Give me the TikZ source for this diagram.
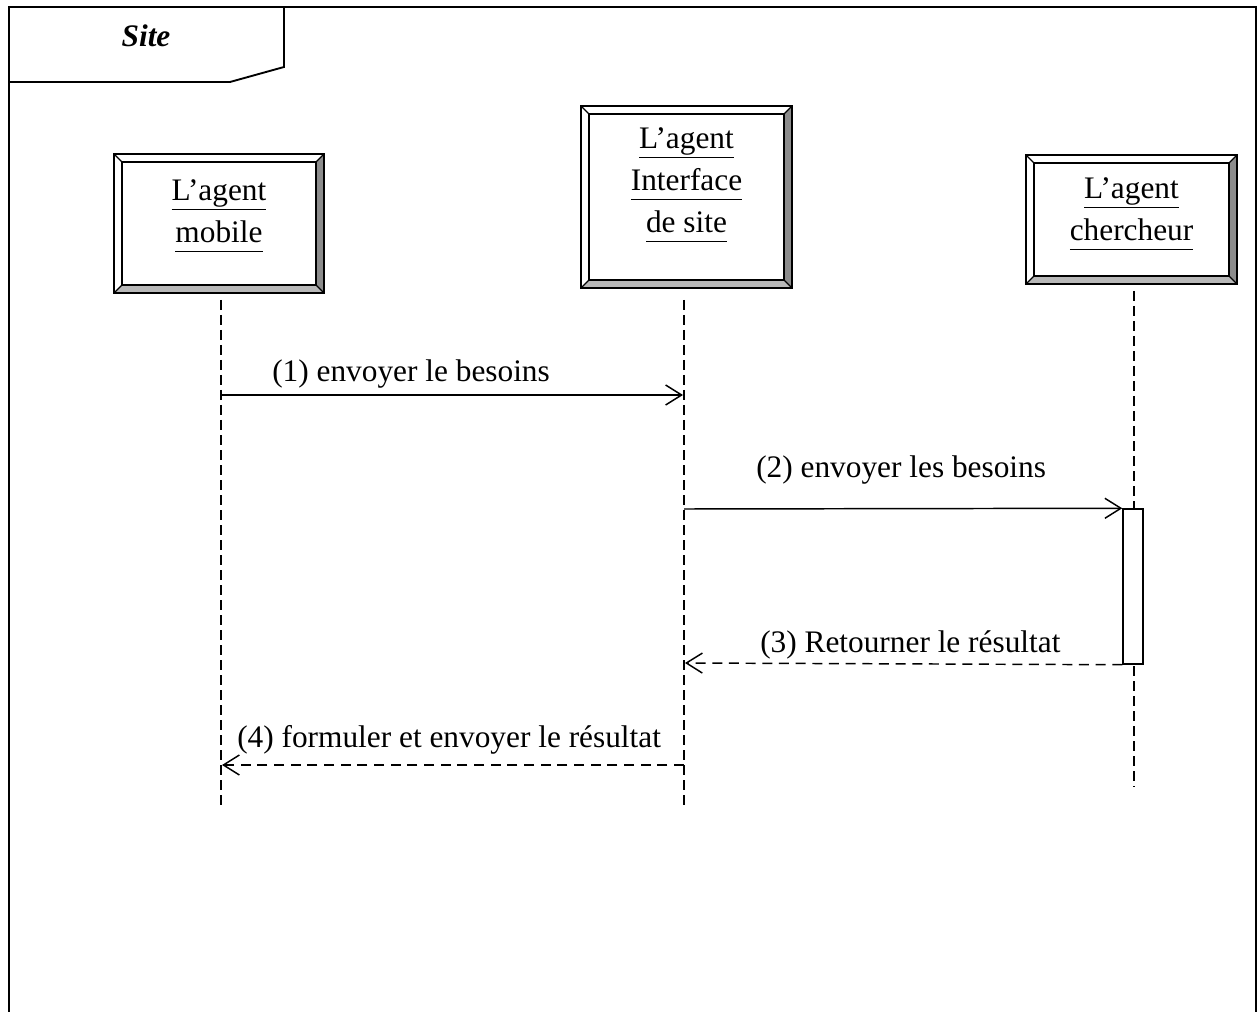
\documentclass[tikz,border=0pt]{standalone}
\usepackage{fontspec}
\setmainfont{Liberation Serif}
\usetikzlibrary{arrows.meta}
% underline with a fixed depth, below the descenders
\newcommand\ulword[1]{\underline{\vphantom{g}#1}}
\begin{document}
\begin{tikzpicture}[x=0.75pt,y=-0.75pt,
  txt/.style={font=\fontsize{23.5pt}{31.5pt}\selectfont},
  agentbox/.style={draw, line width=1.1pt, fill=white, inner sep=0pt,
    path picture={
      \coordinate (pp-nw) at (path picture bounding box.north west);
      \coordinate (pp-ne) at (path picture bounding box.north east);
      \coordinate (pp-sw) at (path picture bounding box.south west);
      \coordinate (pp-se) at (path picture bounding box.south east);
      \fill[black!45] (pp-ne) -- (pp-se) -- ([shift={(-6pt,6pt)}]pp-se) -- ([shift={(-6pt,-6pt)}]pp-ne) -- cycle;
      \fill[black!28] (pp-sw) -- (pp-se) -- ([shift={(-6pt,6pt)}]pp-se) -- ([shift={(6pt,6pt)}]pp-sw) -- cycle;
      \draw[line width=0.9pt] ([shift={(6pt,-6pt)}]pp-nw) rectangle ([shift={(-6pt,6pt)}]pp-se);
      \draw[line width=0.9pt]
        (pp-nw) -- ([shift={(6pt,-6pt)}]pp-nw)
        (pp-ne) -- ([shift={(-6pt,-6pt)}]pp-ne)
        (pp-sw) -- ([shift={(6pt,6pt)}]pp-sw)
        (pp-se) -- ([shift={(-6pt,6pt)}]pp-se);
    }},
  agentname/.style={txt, align=center, inner sep=0pt},
  lifeline/.style={line width=0.9pt, dash pattern=on 7.5pt off 3.75pt},
  msg/.style={line width=1.1pt, -{Straight Barb[length=12pt,width=15pt,line width=1.1pt]}},
  reply/.style={msg, dash pattern=on 7.5pt off 5pt},
  frame/.style={line width=1.4pt},
  activation/.style={draw, fill=white, line width=1.1pt, inner sep=0pt, minimum width=15pt}
]
\useasboundingbox (0,0) rectangle (1260,1012);

% frame with its name tab (open at the bottom)
\draw[frame] (9,1012) -- (9,7) -- (1256,7) -- (1256,1012);
\draw[frame] (9,82) -- (230,82) -- (284,67) -- (284,7);
\node[txt, font=\fontsize{23.5pt}{31.5pt}\selectfont\bfseries\itshape, anchor=base] (site) at (146,47) {Site};

% agents
\node[agentbox, minimum width=157.5pt, minimum height=104.25pt] (mob) at (219,223.5) {};
\node[agentname] (mobName) at ([yshift=6pt]mob.center) {\ulword{L’agent}\\\ulword{mobile}};
\node[agentbox, minimum width=158.25pt, minimum height=136.5pt] (itf) at (686.5,197) {};
\node[agentname] (itfName) at ([yshift=9pt]itf.center) {\ulword{L’agent}\\\ulword{Interface}\\\ulword{de site}};
\node[agentbox, minimum width=158.25pt, minimum height=96.75pt] (chr) at (1131.5,219.5) {};
\node[agentname] (chrName) at ([yshift=4pt]chr.center) {\ulword{L’agent}\\\ulword{chercheur}};

% lifelines
\coordinate (mobTop) at (221,300);  \coordinate (mobBot) at (221,808);
\coordinate (itfTop) at (684,300);  \coordinate (itfBot) at (684,808);
\coordinate (chrTop) at (1134,291); \coordinate (chrBot) at (1134,787);
\draw[lifeline] (mobTop) -- (mobBot);
\draw[lifeline] (itfTop) -- (itfBot);
\draw[lifeline] (chrTop) -- (chrBot);

% activation of the search agent
\node[activation, minimum height=116.25pt] (act) at (1133,586.5) {};

% message end points on the lifelines
\coordinate (m1a) at (221,395);  \coordinate (m1b) at (683,395);
\coordinate (m2a) at (684,509);
\coordinate (m3b) at (685,663);
\coordinate (m4a) at (684,765);  \coordinate (m4b) at (222,765);

% messages
\draw[msg] (m1a) -- (m1b);
\node[txt, anchor=base west, inner sep=0pt] (l1) at (272,382) {(1) envoyer le besoins};

\draw[msg] (m2a) -- (act.north west);
\node[txt, anchor=base west, inner sep=0pt] (l2) at (756,477) {(2) envoyer les besoins};

\draw[reply] (act.south west) -- (m3b);
\node[txt, anchor=base west, inner sep=0pt] (l3) at (760,652) {(3) Retourner le résultat};

\draw[reply] (m4a) -- (m4b);
\node[txt, anchor=base west, inner sep=0pt] (l4) at (237,747) {(4) formuler et envoyer le résultat};
\end{tikzpicture}
\end{document}
